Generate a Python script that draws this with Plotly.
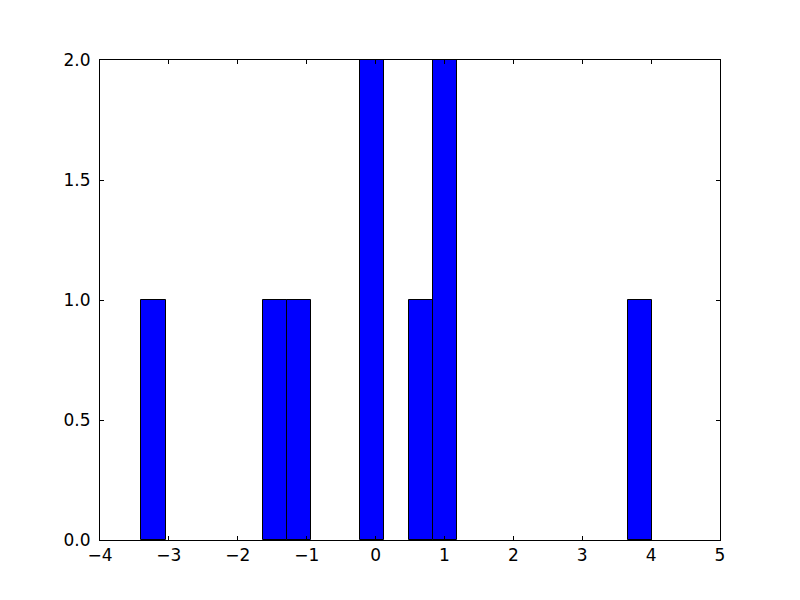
import plotly.graph_objects as go

# Histogram bins
bin_start = -3.402
bin_width = 0.353
counts = [1, 0, 0, 0, 0, 1, 1, 0, 0, 2, 0, 1, 2, 0, 0, 0, 0, 0, 0, 0, 1]

centers = [bin_start + (i + 0.5) * bin_width for i in range(len(counts))]
xs = [c for c, n in zip(centers, counts) if n > 0]
ys = [n for n in counts if n > 0]

fig = go.Figure(go.Bar(
    x=xs, y=ys, width=bin_width,
    marker=dict(color="#0000ff", line=dict(color="black", width=1)),
))

axis_common = dict(
    showline=True, linecolor="black", linewidth=1, mirror="ticks",
    ticks="inside", ticklen=4, tickcolor="black", tickwidth=1,
    showgrid=False, zeroline=False,
    tickfont=dict(family="DejaVu Sans", size=17, color="black"),
)

fig.update_layout(
    width=800, height=600,
    margin=dict(l=92, r=88, t=52, b=68),
    paper_bgcolor="white", plot_bgcolor="white",
    showlegend=False, bargap=0,
    xaxis=dict(range=[-4, 5], dtick=1, tick0=-4, ticklabelstandoff=0, **axis_common),
    yaxis=dict(range=[0, 2], dtick=0.5, tick0=0, tickformat=".1f", ticklabelstandoff=5, **axis_common),
)

fig.write_html("out.html")
